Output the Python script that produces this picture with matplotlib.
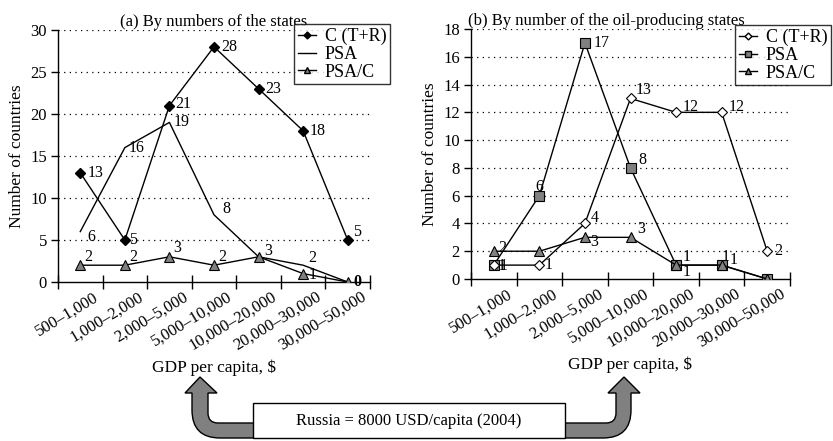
import matplotlib
matplotlib.use("Agg")
import matplotlib.pyplot as plt
import matplotlib.transforms as mtransforms
from matplotlib.path import Path
from matplotlib.patches import PathPatch, Rectangle
from matplotlib.lines import Line2D

plt.rcParams['font.family'] = ['Liberation Serif', 'DejaVu Serif']

categories = ["500–1,000", "1,000–2,000", "2,000–5,000", "5,000–10,000",
              "10,000–20,000", "20,000–30,000", "30,000–50,000"]

# Panel (a): by numbers of the states
a_c = [13, 5, 21, 28, 23, 18, 5]
a_psa = [6, 16, 19, 8, 3, 2, 0]
a_psac = [2, 2, 3, 2, 3, 1, 0]

# Panel (b): by number of the oil-producing states
b_c = [1, 1, 4, 13, 12, 12, 2]
b_psa = [1, 6, 17, 8, 1, 1, 0]
b_psac = [2, 2, 3, 3, 1, 1, 0]

series_names = ["C (T+R)", "PSA", "PSA/C"]
titles = ["(a) By numbers of the states", "(b) By number of the oil-producing states"]
ylabel = "Number of countries"
xlabel = "GDP per capita, $"
note = "Russia = 8000 USD/capita (2004)"

GRAY = "#808080"
W, H = 833, 441
fig = plt.figure(figsize=(W / 100, H / 100), dpi=100)


def px_axes(x0, y0, x1, y1):
    return fig.add_axes([x0 / W, 1 - y1 / H, (x1 - x0) / W, (y1 - y0) / H])


def setup(ax, ymax, ystep, title, title_x=0.5):
    x = list(range(len(categories)))
    ax.set_xlim(-0.5, len(categories) - 0.5)
    ax.set_ylim(0, ymax)
    for s in ["top", "right"]:
        ax.spines[s].set_visible(False)
    ax.set_yticks(range(0, ymax + 1, ystep))
    ax.tick_params(axis='y', direction='out', length=5, width=1, labelsize=12, pad=3)
    ax.set_xticks([i - 0.5 for i in range(len(categories) + 1)])
    ax.set_xticklabels([])
    ax.tick_params(axis='x', which='major', direction='inout', length=10, width=1)
    ax.set_xticks(x, minor=True)
    ax.set_xticklabels(categories, minor=True, rotation=31, ha='right', va='top',
                       rotation_mode='anchor', fontsize=12)
    ax.tick_params(axis='x', which='minor', length=0, pad=5)
    off = mtransforms.ScaledTranslation(13 / 100, 0, fig.dpi_scale_trans)
    for lab in ax.get_xticklabels(minor=True):
        lab.set_transform(lab.get_transform() + off)
    for yv in range(ystep, ymax + 1, ystep):
        ax.axhline(yv, color='black', lw=0.9, ls=(0, (1, 3.5)), zorder=0)
    ax.set_title(title, fontsize=12, pad=3, x=title_x)
    ax.set_ylabel(ylabel, fontsize=12.5, labelpad=4)
    ax.set_xlabel(xlabel, fontsize=12.5, labelpad=4)
    ax.spines['left'].set_linewidth(1)
    ax.spines['bottom'].set_linewidth(1)
    return x


def labels(ax, x, vals, offs, bold_last=False):
    for i, (xi, v) in enumerate(zip(x, vals)):
        if offs[i] is None:
            continue
        ax.annotate(str(v), (xi, v), xytext=offs[i], textcoords='offset points',
                    fontsize=11.5, ha='left', va='center',
                    fontweight='bold' if (bold_last and i == len(vals) - 1) else 'normal',
                    zorder=6)


def legend(handles, anchor):
    lg = fig.legend(handles, series_names, loc='upper left', bbox_to_anchor=anchor,
                    fontsize=13, frameon=True, fancybox=False, edgecolor='black',
                    handlelength=1.0, handletextpad=0.5, borderpad=0.2, labelspacing=0.05,
                    borderaxespad=0)
    lg.get_frame().set_linewidth(1)
    return lg


# ---------- Panel (a) ----------
axa = px_axes(58, 30, 370, 282)
x = setup(axa, 30, 5, titles[0])
axa.plot(x, a_c, color='black', lw=1, marker='D', ms=5.5, mfc='black', mec='black', zorder=4)
axa.plot(x, a_psa, color='black', lw=1, zorder=3)
axa.plot(x, a_psac, color='black', lw=1, marker='^', ms=7.5, mfc=GRAY, mec='black', mew=0.8, zorder=5)
labels(axa, x, a_c, [(5, 0), (3, 0), (4, 1), (5, 0), (5, 0), (5, 0), (4, 6)])
labels(axa, x, a_psa, [(5, -4), (3, 0), (3, 0), (6, 4), None, (4, 5), None])
labels(axa, x, a_psac, [(3, 6), (3, 6), (3, 6), (3, 6), (4, 4), (4, -1), (4, 0)], bold_last=True)
legend([Line2D([], [], color='black', lw=1, marker='D', ms=3.5, mfc='black'),
        Line2D([], [], color='black', lw=1),
        Line2D([], [], color='black', lw=1, marker='^', ms=5, mfc=GRAY, mec='black')],
       (294 / W, 1 - 24 / H))

# ---------- Panel (b) ----------
axb = px_axes(471, 29, 790, 279)
x = setup(axb, 18, 2, titles[1], title_x=0.425)
axb.plot(x, b_c, color='black', lw=1, marker='D', ms=5.5, mfc='white', mec='black', mew=0.8, zorder=4)
axb.plot(x, b_psa, color='black', lw=1, marker='s', ms=7, mfc=GRAY, mec='black', mew=0.8, zorder=3)
axb.plot(x, b_psac, color='black', lw=1, marker='^', ms=7.5, mfc=GRAY, mec='black', mew=0.8, zorder=5)
labels(axb, x, b_c, [(3, -1), (4, 0), (4, 4), (4, 6), (5, 4), (5, 4), (5, 0)])
labels(axb, x, b_psa, [(4, -1), (-3, 6), (6, 0), (6, 6), (5, -5), (0, 6), None])
labels(axb, x, b_psac, [(3, 2), None, (4, -3), (5, 6), (5, 6), (6, 4), None])
legend([Line2D([], [], color='black', lw=1, marker='D', ms=3.5, mfc='white', mec='black'),
        Line2D([], [], color='black', lw=1, marker='s', ms=5, mfc=GRAY, mec='black'),
        Line2D([], [], color='black', lw=1, marker='^', ms=5, mfc=GRAY, mec='black')],
       (735 / W, 1 - 25 / H))

# ---------- Bottom annotation with arrows ----------
ov = fig.add_axes([0, 0, 1, 1], zorder=-1)
ov.set_xlim(0, W)
ov.set_ylim(H, 0)
ov.axis('off')
ov.patch.set_alpha(0)

M, L, C3, CL = Path.MOVETO, Path.LINETO, Path.CURVE3, Path.CLOSEPOLY
left_arrow = Path([(200, 377), (217, 393), (208, 393), (208, 413), (208, 423), (218, 423),
                   (256, 423), (256, 438), (220, 438), (192, 438), (192, 410), (192, 393),
                   (185, 393), (200, 377)],
                  [M, L, L, L, C3, C3, L, L, L, C3, C3, L, L, CL])
right_arrow = Path([(624, 377), (640, 393), (631, 393), (631, 410), (631, 438), (603, 438),
                    (562, 438), (562, 423), (606, 423), (616, 423), (616, 413), (616, 393),
                    (608, 393), (624, 377)],
                   [M, L, L, L, C3, C3, L, L, L, C3, C3, L, L, CL])
for p in (left_arrow, right_arrow):
    ov.add_patch(PathPatch(p, facecolor=GRAY, edgecolor='black', lw=1, zorder=1))
ov.add_patch(Rectangle((253, 403), 312, 35, facecolor='white', edgecolor='black', lw=1, zorder=2))
ov.text(409, 421, note, ha='center', va='center', fontsize=12, zorder=3)

fig.savefig("out.png", dpi=100)
